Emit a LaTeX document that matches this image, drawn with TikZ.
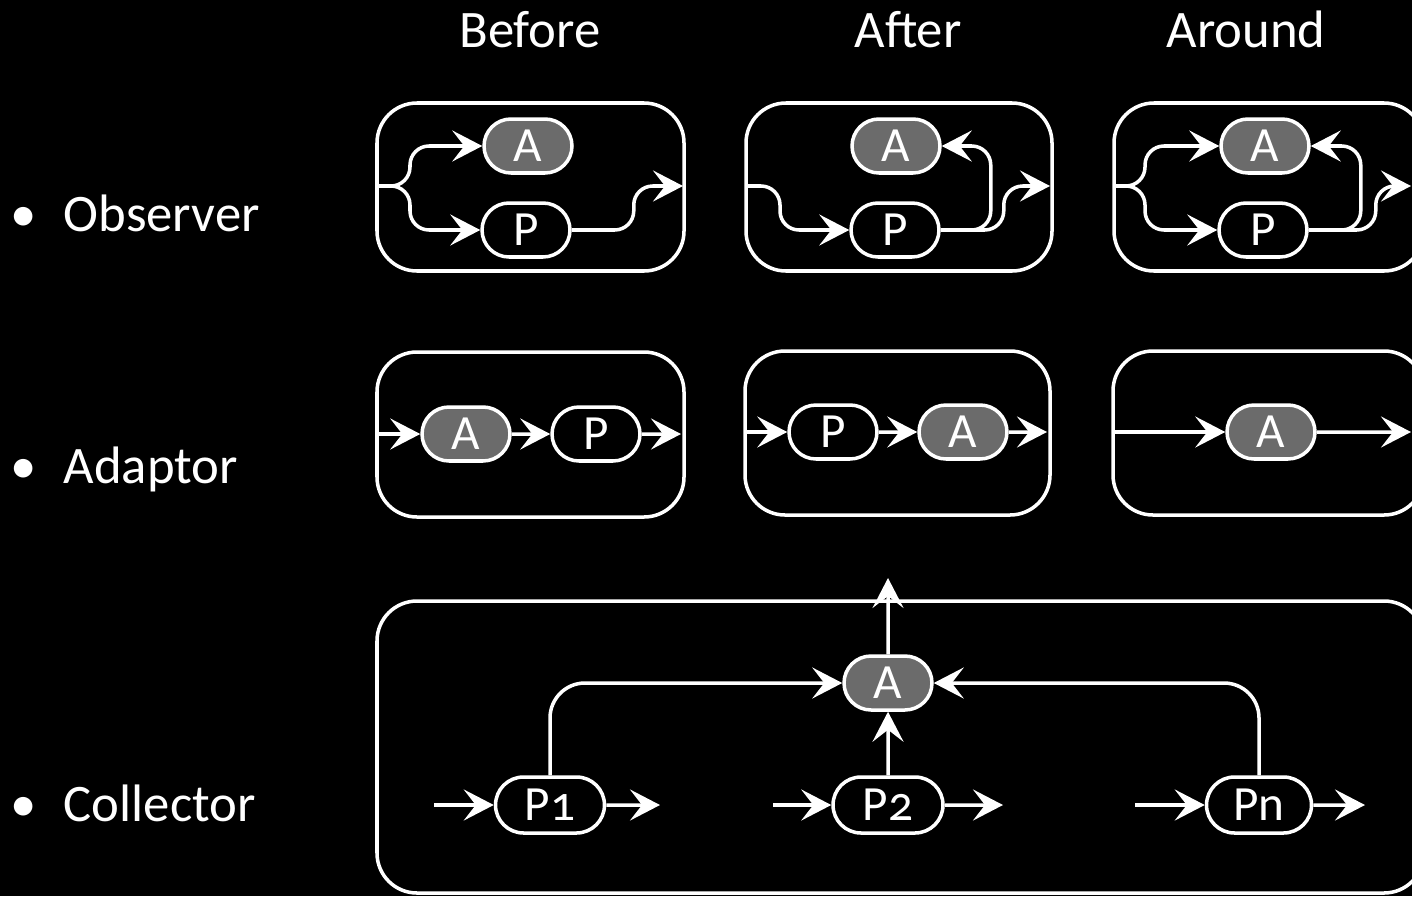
\documentclass[tikz,border=0pt]{standalone}
\usepackage{fontspec}
\setmainfont{Carlito}
\usetikzlibrary{arrows.meta,shapes.misc}
\definecolor{advgray}{HTML}{6B6B6B}
\begin{document}
\begin{tikzpicture}[x=0.02cm, y=-0.02cm, line width=2pt,
  every node/.style={text=white},
  lbl/.style={inner sep=0pt, font=\fontsize{30}{36}\selectfont},
  pill/.style={rounded rectangle, draw=white, fill=black, minimum width=1.76cm,
    minimum height=1.08cm, inner sep=0pt, font=\fontsize{28}{32}\selectfont},
  adv/.style={pill, fill=advgray},
  frame/.style={draw=white, rounded corners=0.8cm},
  flow/.style={draw=white, rounded corners=0.38cm,
    -{Stealth[length=6mm, width=6.2mm, inset=2.4mm]}},
  merge/.style={flow, rounded corners=0.7cm}]
\fill[black] (0,0) rectangle (1412,896);
\useasboundingbox (0,0) rectangle (1412,896);

\node[lbl, anchor=base] (before) at (530,47) {Before};
\node[lbl, anchor=base] (after) at (908,47) {After};
\node[lbl, anchor=base] (around) at (1246,47) {Around};
\node[lbl, anchor=base] (b1) at (24,231) {\textbullet};
\node[lbl, anchor=base west] (observer) at (62,231) {Observer};
\node[lbl, anchor=base] (b2) at (24,483) {\textbullet};
\node[lbl, anchor=base west] (adaptor) at (62,483) {Adaptor};
\node[lbl, anchor=base] (b3) at (24,821) {\textbullet};
\node[lbl, anchor=base west] (collector) at (62,821) {Collector};

% observer
\draw[frame] (377,103) rectangle (684,271);
\node[adv] (obA) at (528,146) {A};
\node[pill] (obP) at (526,230) {P};
\coordinate (obIn) at (377,186);
\coordinate (obOut) at (683,186);
\draw[flow] (obIn) -- ++(33,0) |- (obA);
\draw[flow] (obIn) -- ++(33,0) |- (obP);
\draw[flow] (obP.east) -- ++(62,0) |- (obOut);

\draw[frame] (746,103) rectangle (1052,271);
\node[adv] (oaA) at (896,146) {A};
\node[pill] (oaP) at (895,230) {P};
\coordinate (oaIn) at (746,186);
\coordinate (oaOut) at (1050,186);
\draw[flow] (oaIn) -- ++(34,0) |- (oaP);
\draw[flow] (oaP.east) -- ++(50,0) |- (oaA);
\draw[flow] (oaP.east) -- ++(63,0) |- (oaOut);

\draw[frame] (1114,103) rectangle (1424,271);
\node[adv] (orA) at (1265,146) {A};
\node[pill] (orP) at (1263,230) {P};
\coordinate (orIn) at (1114,186);
\coordinate (orOut) at (1411,186);
\draw[flow] (orIn) -- ++(31,0) |- (orA);
\draw[flow] (orIn) -- ++(31,0) |- (orP);
\draw[flow] (orP.east) -- ++(52,0) |- (orA);
\draw[flow] (orP.east) -- ++(67,0) |- (orOut);

% adaptor
\draw[frame] (377,352) rectangle (684,517);
\node[adv] (abA) at (466,434) {A};
\node[pill] (abP) at (596,434) {P};
\coordinate (abIn) at (377,434);
\coordinate (abOut) at (681,434);
\draw[flow] (abIn) -- (abA);
\draw[flow] (abA) -- (abP);
\draw[flow] (abP) -- (abOut);

\draw[frame] (745,351) rectangle (1050,515);
\node[pill] (aaP) at (833,432) {P};
\node[adv] (aaA) at (963,432) {A};
\coordinate (aaIn) at (745,432);
\coordinate (aaOut) at (1047,432);
\draw[flow] (aaIn) -- (aaP);
\draw[flow] (aaP) -- (aaA);
\draw[flow] (aaA) -- (aaOut);

\draw[frame] (1113,351) rectangle (1424,515);
\node[adv] (arA) at (1271,432) {A};
\coordinate (arIn) at (1113,432);
\coordinate (arOut) at (1411,432);
\draw[flow] (arIn) -- (arA);
\draw[flow] (arA) -- (arOut);

% collector
\draw[frame] (377,601) rectangle (1424,893);
\node[adv] (cA) at (888,683) {A};
\node[pill, minimum width=2.18cm, minimum height=1.12cm] (p1) at (550,805) {P\addfontfeatures{Numbers=OldStyle}1};
\node[pill, minimum width=2.2cm, minimum height=1.12cm] (p2) at (888,805) {P\addfontfeatures{Numbers=OldStyle}2};
\node[pill, minimum width=2.1cm, minimum height=1.12cm] (pn) at (1259,805) {Pn};
\coordinate (cTop) at (888,578);
\coordinate (p1In) at (434,805);
\coordinate (p1Out) at (660,805);
\coordinate (p2In) at (773,805);
\coordinate (p2Out) at (1003,805);
\coordinate (pnIn) at (1135,805);
\coordinate (pnOut) at (1365,805);
\draw[flow] (p1In) -- (p1);
\draw[flow] (p1) -- (p1Out);
\draw[flow] (p2In) -- (p2);
\draw[flow] (p2) -- (p2Out);
\draw[flow] (pnIn) -- (pn);
\draw[flow] (pn) -- (pnOut);
\draw[merge] (p1) |- (cA);
\draw[merge] (pn) |- (cA);
\draw[flow] (p2) -- (cA);
\draw[flow] (cA) -- (cTop);
\end{tikzpicture}
\end{document}
